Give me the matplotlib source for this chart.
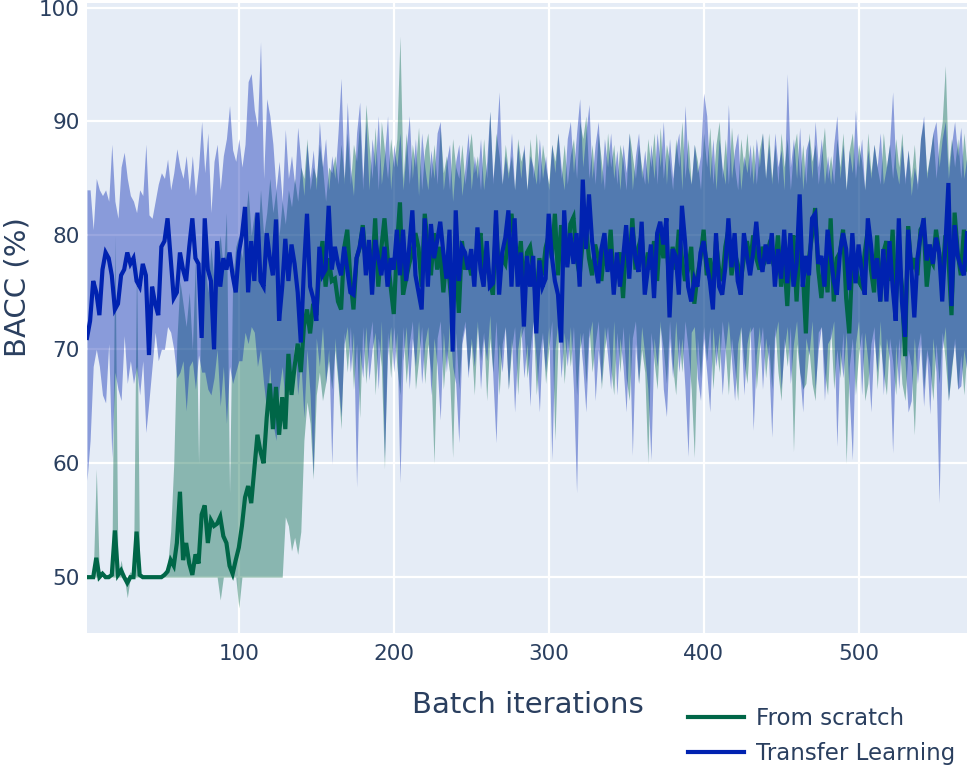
import numpy as np
import matplotlib
matplotlib.use("Agg")
import matplotlib.pyplot as plt
from matplotlib.lines import Line2D

# ---------------- data (one value every 2 iterations) -------------
iterations = list(range(2, 571, 2))

fs_mean = [  # From scratch, mean BACC
    50, 50, 50, 51.7, 50, 50.3, 50, 50, 50.2, 54.1, 50.2, 50.6, 50, 49.5, 50, 50, 54, 50.2, 50, 50,
    50, 50, 50, 50, 50, 50.2, 50.5, 51.5, 51, 53, 57.5, 51.5, 53, 51.2, 50.2, 52, 51.2, 55.5, 56.3, 53,
    55, 54.5, 54.7, 55.3, 53.6, 53, 51, 50.3, 51.5, 52.6, 54.5, 57, 58, 56.5, 59.5, 62.5, 61, 60, 64, 67,
    63, 66.7, 62.5, 65.8, 63, 69.6, 66, 68.5, 70.5, 68, 72, 73.5, 71.4, 74, 73, 77.2, 79.5, 75.5, 78, 76,
    76.2, 74.2, 73.5, 78.9, 80.5, 76.2, 73.5, 78, 78.9, 80.9, 77.5, 78.9, 76.5, 81.5, 75.5, 78.9, 81.5, 78.2, 75.5, 73.1,
    78.9, 82.9, 74.8, 76.2, 77.5, 78.5, 80.2, 78.9, 75.5, 81.9, 78.9, 76.5, 80.2, 77, 79, 75, 78, 76, 73, 78,
    73.2, 79.5, 77, 78, 76.5, 77.5, 79, 80.2, 76.5, 78, 76, 74.8, 81, 76.5, 78, 77.5, 80, 81.9, 79, 77,
    79.5, 75, 78.5, 79, 77, 74, 78, 76.5, 78.9, 80, 78, 81.9, 76.5, 80.9, 79, 77.5, 81, 81.6, 78, 76.5,
    79.5, 80.9, 78, 76.5, 79.2, 78, 76, 79, 77, 80.5, 75.5, 77.5, 78.5, 74.5, 79.5, 77, 81.5, 77, 79, 80,
    76, 78.5, 77, 79.5, 76, 80.5, 78, 80, 75, 79, 77, 80.5, 78, 76, 77, 79, 74, 76.5, 78, 80.5,
    76.5, 78, 75.5, 79.5, 77, 76, 79, 80.5, 76.5, 78.5, 77.5, 76, 78, 79.5, 77.5, 80, 78, 77, 79, 78,
    79, 78, 77, 80, 75.5, 78, 73.8, 79, 80, 74.2, 79.5, 77, 71.4, 78, 80, 82.4, 77, 74.5, 78, 75,
    81.5, 74.2, 78, 78.5, 80.5, 74.5, 71.4, 78, 77.5, 76, 75.5, 78.5, 80.5, 77, 75, 80, 74.2, 78.5, 79.5, 76,
    80.5, 74, 78, 75.5, 69.4, 80.8, 77, 78, 76.5, 80.5, 81, 75.5, 78, 77.5, 80.5, 78.5, 76, 80, 78, 73,
    82, 78.5, 76.5, 80.5, 77,
]
fs_hi = [  # From scratch, upper edge of band
    50, 50, 50, 59.5, 50, 50, 50, 50, 50, 80, 50, 51.5, 50, 50, 50.5, 50, 78, 50, 50, 50,
    50, 50, 50, 50, 50, 50.5, 51, 54, 60, 70.8, 76, 74, 72, 75, 70, 78, 60, 80, 78, 75,
    79, 76, 78, 80, 77, 82, 57.4, 76, 79, 80, 78, 81, 84, 80, 82, 79, 84, 80, 82, 85,
    82, 84, 80, 83, 81, 84, 82.5, 85, 83, 86, 85, 88.5, 84, 86, 85, 88, 86, 83, 86, 85.5,
    87, 84.5, 88, 85, 89, 84.5, 88, 86.5, 90, 84, 91.5, 88, 85, 89.5, 84, 90, 87.5, 85, 88.5, 86,
    88.5, 97.5, 85, 89, 84.5, 88, 86, 89.5, 84, 87.5, 89, 85, 88, 84.5, 89.5, 85.5, 87, 84, 88.5, 86,
    85, 88, 84.5, 87, 89, 85.5, 87, 84, 88.5, 85, 90.9, 84.5, 89, 87, 84.5, 88, 85.5, 87, 84, 88.5,
    86.5, 87.6, 84, 88.5, 85, 89, 84.5, 88, 86, 84.5, 88, 86.5, 89, 85, 88, 84.5, 87, 88.5, 85, 90,
    88.5, 90.5, 85, 88, 84.5, 89, 86.5, 84, 89, 86, 88, 84.5, 88, 86.5, 84, 89, 87, 85, 88, 86,
    84.5, 88.5, 86, 89, 84.5, 89.5, 85, 88, 86.5, 84, 88.5, 86, 90, 85, 88.5, 84.5, 88, 86.5, 84, 89,
    86, 89.5, 84.5, 88, 90, 85, 88.5, 84.5, 89.5, 86, 84, 88.5, 86, 89, 85, 88, 84.5, 87.5, 89, 85,
    89, 85, 88, 84.5, 89, 86, 88.5, 84, 87.5, 89, 85, 88, 84.5, 89, 86.5, 88, 84.5, 87, 89.5, 85,
    87, 84.5, 88.5, 86, 89, 84, 87.5, 89, 85, 88, 86.5, 84, 89, 85.5, 88, 86, 84.5, 89, 86, 88,
    85, 88.5, 86, 89, 84.5, 87.5, 85, 88, 84, 88.5, 90, 85.5, 87, 89, 85, 88, 90, 94.9, 86, 88.5,
    86, 88.5, 85, 89, 86,
]
fs_lo = [  # From scratch, lower edge of band
    50, 50, 50, 50, 50, 50, 50, 50, 50, 50, 50, 50, 50, 48.2, 50, 50, 50, 50, 50, 50,
    50, 50, 50, 50, 50, 50, 50, 50, 50, 50, 50, 50, 50, 50, 50, 50, 50, 50, 50, 50,
    50, 50, 50, 48, 50, 50, 50, 50, 50, 47.3, 50, 50, 50, 50, 50, 50, 50, 50, 50, 50,
    50, 50, 50, 50, 55.3, 54.5, 52.3, 53.5, 52, 54, 62, 65.4, 63.5, 58.6, 66, 68, 65.5, 67, 69, 66.5,
    70, 67, 63, 71.5, 68, 72, 66.5, 70.5, 64, 72, 67, 70.5, 72.5, 66, 71, 68.5, 59.5, 71.5, 67.5, 72,
    68.5, 66, 72, 67, 70.5, 72.5, 66.5, 69, 72, 67, 70.5, 68, 60, 71, 72.5, 66.5, 70, 68, 60.5, 71.5,
    66.5, 71, 72.5, 68, 70.5, 66, 72, 69, 71.5, 65.5, 71, 68, 72.5, 66, 70.5, 72, 66.5, 70, 72, 66,
    71, 72, 67.5, 70, 72.5, 66, 69.5, 71.5, 67, 70, 72.5, 62, 70.5, 72, 67, 71, 68.5, 72, 66, 70,
    71.5, 67, 72, 68, 70.5, 72.5, 66.5, 70, 72, 68.5, 66, 71.5, 68, 72, 67.5, 65.5, 71, 72.5, 67, 70,
    68, 60, 71.5, 69, 66.5, 72, 70, 67, 72.5, 68.5, 66, 71, 68, 72.5, 70, 66.5, 60.5, 71, 67.5, 72,
    69, 72, 66.5, 70.5, 68, 72.5, 70, 66, 71, 68.5, 65.5, 72, 69, 67, 71.5, 72, 66.5, 70, 72, 67.5,
    70.5, 66.5, 72, 68, 65.5, 71, 68.5, 72, 61, 70.5, 68, 66.5, 67, 70, 67, 65.5, 71.5, 72, 68, 66,
    72, 66.5, 70, 67.5, 71.5, 60, 68.5, 71, 66, 69.5, 71.5, 65.5, 67, 70.5, 72, 66.5, 70.5, 68, 66, 71,
    69, 66, 71, 67, 65.5, 70, 68.5, 62.5, 70, 71.5, 66.5, 70, 68.5, 65.5, 70.5, 67, 71.5, 69, 65.5, 68,
    71, 66.5, 69.5, 66, 70,
]

tl_mean = [  # Transfer Learning, mean BACC
    71, 72.5, 76, 75, 73, 77, 78.5, 78, 76.5, 73.5, 74, 76.5, 77, 78.5, 77.5, 78, 76, 75.5, 77.5, 76.5,
    69.5, 75.5, 74, 73, 79, 79.5, 81.5, 78, 74.5, 75, 78.5, 77, 76, 79, 81.5, 78, 77.5, 71, 81.5, 77,
    76, 70, 79.5, 75.5, 78, 77, 78.5, 76.5, 75, 78.5, 80, 82.5, 75, 79.5, 76, 82, 76, 75.5, 80.2, 78,
    76.5, 81.4, 72.5, 75.5, 79.7, 76, 79.2, 77.5, 75, 70.6, 77, 81.9, 75.5, 74.5, 72.5, 79, 76.5, 77, 82.6, 77,
    79, 77.5, 76.5, 79, 77, 75, 74.8, 78, 79, 80.7, 76.5, 79.6, 74.8, 79.6, 78, 76.5, 79, 75.5, 78, 77,
    80.5, 76.5, 80.5, 76, 79, 82.2, 76.5, 75, 73.5, 81.5, 75.5, 81, 78, 79.5, 81.2, 78.5, 76.2, 80.5, 69.8, 82.2,
    76, 79, 78.5, 77, 78.8, 75.5, 80.7, 77, 75.5, 79.5, 75.5, 75.8, 82.2, 74.8, 78.5, 79.8, 82.2, 75.5, 81.5, 75.5,
    78.5, 72, 78.2, 75.5, 78.2, 71.4, 77.8, 75.5, 76.2, 81.9, 78.2, 76, 74.8, 70.6, 82.2, 77.2, 80.2, 77.5, 80.2, 75.5,
    84.9, 78.8, 83.6, 79.5, 77.5, 75.8, 78.8, 80.2, 76.8, 78.8, 74.8, 78.5, 75.5, 78, 80.9, 76.2, 80.7, 78, 76.8, 81.2,
    74.8, 77, 79.2, 74.5, 80.2, 81.2, 79.2, 81.5, 72.8, 78.8, 78.2, 74.8, 82.6, 79.5, 75.5, 74.2, 76.2, 75.5, 78.5, 79.5,
    77.5, 76, 73.5, 80.2, 75.5, 74.8, 77.2, 81.5, 77.2, 80.2, 76, 74.8, 80.2, 78.2, 76.5, 78.5, 81.2, 78, 76.8, 79.2,
    77.5, 80.2, 75.5, 78.8, 76.2, 80.5, 75.8, 80.2, 75.5, 77.5, 83.6, 75.5, 78.2, 76.5, 81.5, 81.9, 77.5, 78.2, 75.5, 80.5,
    78.2, 76, 74.8, 78.5, 80.2, 78.8, 75.2, 80.2, 75.8, 79.2, 76.8, 74.8, 81.5, 79.2, 76.2, 78, 74.2, 78.8, 74.2, 79.5,
    75.5, 72.5, 81.5, 74.2, 71.1, 80.5, 77.2, 72.8, 78, 80, 81.5, 77.8, 79.2, 77.5, 79.8, 78.5, 74.2, 79, 84.6, 73.8,
    80.9, 78.2, 77.2, 76.5, 80.2,
]
tl_hi = [  # Transfer Learning, upper edge of band
    84, 84, 80.5, 85, 84, 83.5, 84, 83, 88, 83, 81.5, 86, 87.3, 85, 83.5, 83, 82, 84, 83.5, 88,
    81.8, 81.5, 83, 84.5, 85.5, 85, 86.7, 84, 85.5, 87.6, 86, 85, 87, 84, 87, 83.5, 86, 90, 85.5, 89,
    82, 86.5, 88, 84, 87, 88.5, 91.4, 87.5, 86.5, 88.5, 86, 88, 93.5, 94.2, 91, 89.5, 97, 85, 92, 90.5,
    88, 84, 86.5, 83, 89.3, 85, 87, 84.5, 89.5, 86.5, 83.5, 88, 85, 87.5, 84, 90, 86, 88.5, 84, 87,
    85, 89, 93.8, 84.5, 91.7, 86, 83.5, 89, 91.7, 85, 90, 84, 88.5, 86, 90.5, 84.5, 87, 90.5, 84, 88,
    86, 89, 84, 87.5, 90.5, 85, 88.5, 83.5, 89, 86, 84, 87.5, 85, 89, 90, 84, 86.5, 88, 83, 86.5,
    88, 83.5, 86, 89, 84, 87, 85, 88.5, 84, 86.5, 90.9, 85, 88, 92.6, 84.5, 87, 85, 89, 84, 88,
    85, 88, 84, 87, 86, 84.5, 88.5, 85, 87, 84, 88, 85.5, 89, 86, 84, 88.5, 90, 85.5, 89, 92,
    86, 89, 91.5, 85, 88, 90, 84.5, 88.5, 86, 89, 85, 87.5, 84, 88, 85.5, 89, 84, 87, 89, 85,
    87.5, 84.5, 88, 85, 89, 86, 90, 84.5, 88.5, 85, 87.5, 89, 84, 91.4, 86, 84.5, 88, 85.5, 87, 92.5,
    90.5, 85, 88.5, 84, 88.5, 86, 84.5, 91.5, 85, 87.5, 89, 84, 87, 85.5, 88, 84.5, 88.5, 86, 89, 85,
    88, 84.5, 89, 86, 87.5, 84, 94.2, 86, 88.5, 85, 89.5, 84, 87.5, 88.5, 85, 90, 86, 88.5, 84.5, 87,
    84.5, 88, 90.5, 85, 88, 84, 87.5, 85.5, 91, 86, 88.5, 84, 87.5, 85, 88, 86, 89, 84.5, 86, 88,
    92.6, 86, 84.5, 88, 85, 87.5, 83.5, 86, 84.5, 88.5, 90.5, 85, 87, 89, 90, 86, 88.5, 90, 85, 88,
    90, 87, 89.5, 85, 87,
]
tl_lo = [  # Transfer Learning, lower edge of band
    58.5, 62, 68.5, 70, 68.5, 66, 65.3, 70.5, 60.5, 68, 66.5, 65.5, 71.2, 67, 69, 67, 68.5, 66, 69, 62.7,
    65.5, 68.5, 71.5, 69, 70, 70, 72, 71.5, 70, 67.5, 68, 69, 64.6, 68.5, 69, 66.5, 69.5, 68, 68, 66.5,
    66, 67.5, 70, 65, 68.5, 63.5, 68.5, 67, 68, 69, 69, 71.5, 70.5, 72, 71.5, 68.5, 70, 67, 64.6, 68.5,
    63.5, 62, 66.5, 68.5, 65, 69.5, 67.5, 70.5, 66, 69, 64, 70, 66, 59, 71, 68.5, 72, 67, 70, 59.9,
    71, 67.5, 64.1, 70.5, 72, 68, 71.5, 57.9, 70, 67.5, 72, 67.3, 70, 71.5, 66.5, 72.5, 60.5, 69.5, 72, 68,
    71.5, 58.3, 69, 72, 66.5, 71, 68.5, 72.5, 67, 70.5, 72, 66, 71, 68.5, 63.8, 71.5, 68, 72.5, 68.5, 67,
    61.8, 70.5, 72, 67.5, 71, 68.5, 72.5, 66.5, 71, 69, 73, 67.5, 61.8, 70.5, 68, 72, 66.5, 71, 64.5, 70,
    72, 67.5, 70.5, 65, 72.5, 69, 64.5, 71, 68, 72, 60.3, 70, 72.5, 67.5, 71.5, 68.5, 72, 66.5, 57.4, 71.5,
    68.5, 64.5, 71, 72.5, 65.5, 70, 67, 72, 69.5, 66.5, 72.5, 66, 71, 68.5, 64.5, 71.5, 60.7, 70.5, 67, 72,
    69.5, 66.5, 60.3, 71, 68.5, 72.5, 66.5, 64.1, 71, 67.5, 72.5, 68, 71, 66.5, 60.6, 71.5, 72, 67.5, 65.5, 71,
    68, 64.5, 72, 68.5, 71.5, 66, 70, 72.5, 69, 65.5, 70.5, 72, 66, 70.5, 72, 62.9, 69.5, 72, 66.5, 71,
    69, 62.3, 71, 72.5, 66.5, 70, 72, 67, 70.5, 72.5, 68, 64.5, 71, 69.5, 72.5, 66.5, 70, 72, 65.5, 70.5,
    71, 72.5, 61.5, 70, 67.5, 71.5, 66, 60.3, 70.5, 72.5, 66, 71.5, 69, 64.5, 71, 68, 72.5, 66, 71, 69,
    60.9, 70.5, 66.5, 71.5, 69, 64.5, 65.5, 71, 67, 70.5, 65, 69.5, 64.3, 71, 68, 56.5, 70, 72, 65.5, 68.5,
    70.5, 66.5, 66.8, 70, 68,
]

series_names = ["From scratch", "Transfer Learning"]
y_ticks = [50, 60, 70, 80, 90, 100]
x_ticks = [100, 200, 300, 400, 500]

# ---------------- styling ----------------
FS_COLOR = "#006647"
TL_COLOR = "#0022b0"
BG = "#e5ecf6"
TXT = "#2a3f5f"
plt.rcParams["font.family"] = ["DejaVu Sans"]

fig = plt.figure(figsize=(9.67, 7.68), dpi=100)
ax = fig.add_axes([87 / 967, (768 - 633) / 768, 880 / 967, 630 / 768])
ax.set_facecolor(BG)

x = np.array(iterations)
ax.fill_between(x, fs_lo, fs_hi, color=FS_COLOR, alpha=0.4, linewidth=0, zorder=1)
ax.fill_between(x, tl_lo, tl_hi, color=TL_COLOR, alpha=0.4, linewidth=0, zorder=1.1)
ax.plot(x, fs_mean, color=FS_COLOR, lw=3, zorder=3, solid_joinstyle="miter")
ax.plot(x, tl_mean, color=TL_COLOR, lw=3, zorder=4, solid_joinstyle="miter")

ax.set_xlim(2, 570)
ax.set_ylim(45.1, 100.4)
ax.set_xticks(x_ticks)
ax.set_yticks(y_ticks)
ax.grid(True, color="white", lw=1.6, zorder=0)
ax.set_axisbelow(True)
for s in ax.spines.values():
    s.set_visible(False)
ax.tick_params(length=0, labelsize=15.5, colors=TXT)
ax.tick_params(axis="x", pad=8)
ax.tick_params(axis="y", pad=5)

ax.set_xlabel("Batch iterations", fontsize=21, color=TXT)
ax.xaxis.set_label_coords(528 / 880 - 87 / 880, (633 - 705) / 630)
ax.xaxis.label.set_va("center")
ax.set_ylabel("BACC (%)", fontsize=21, color=TXT)
ax.yaxis.set_label_coords((18 - 87) / 880, (633 - 287) / 630)
ax.yaxis.label.set_va("center")

handles = [Line2D([], [], color=FS_COLOR, lw=3), Line2D([], [], color=TL_COLOR, lw=3)]
fig.legend(handles, series_names, loc="center left", bbox_to_anchor=(688 / 967, 1 - 736 / 768),
           frameon=False, borderpad=0, borderaxespad=0, fontsize=16.5, labelcolor=TXT,
           handlelength=2.45, handletextpad=0.5, labelspacing=0.55)

fig.savefig("out.png", dpi=100, facecolor="white")
